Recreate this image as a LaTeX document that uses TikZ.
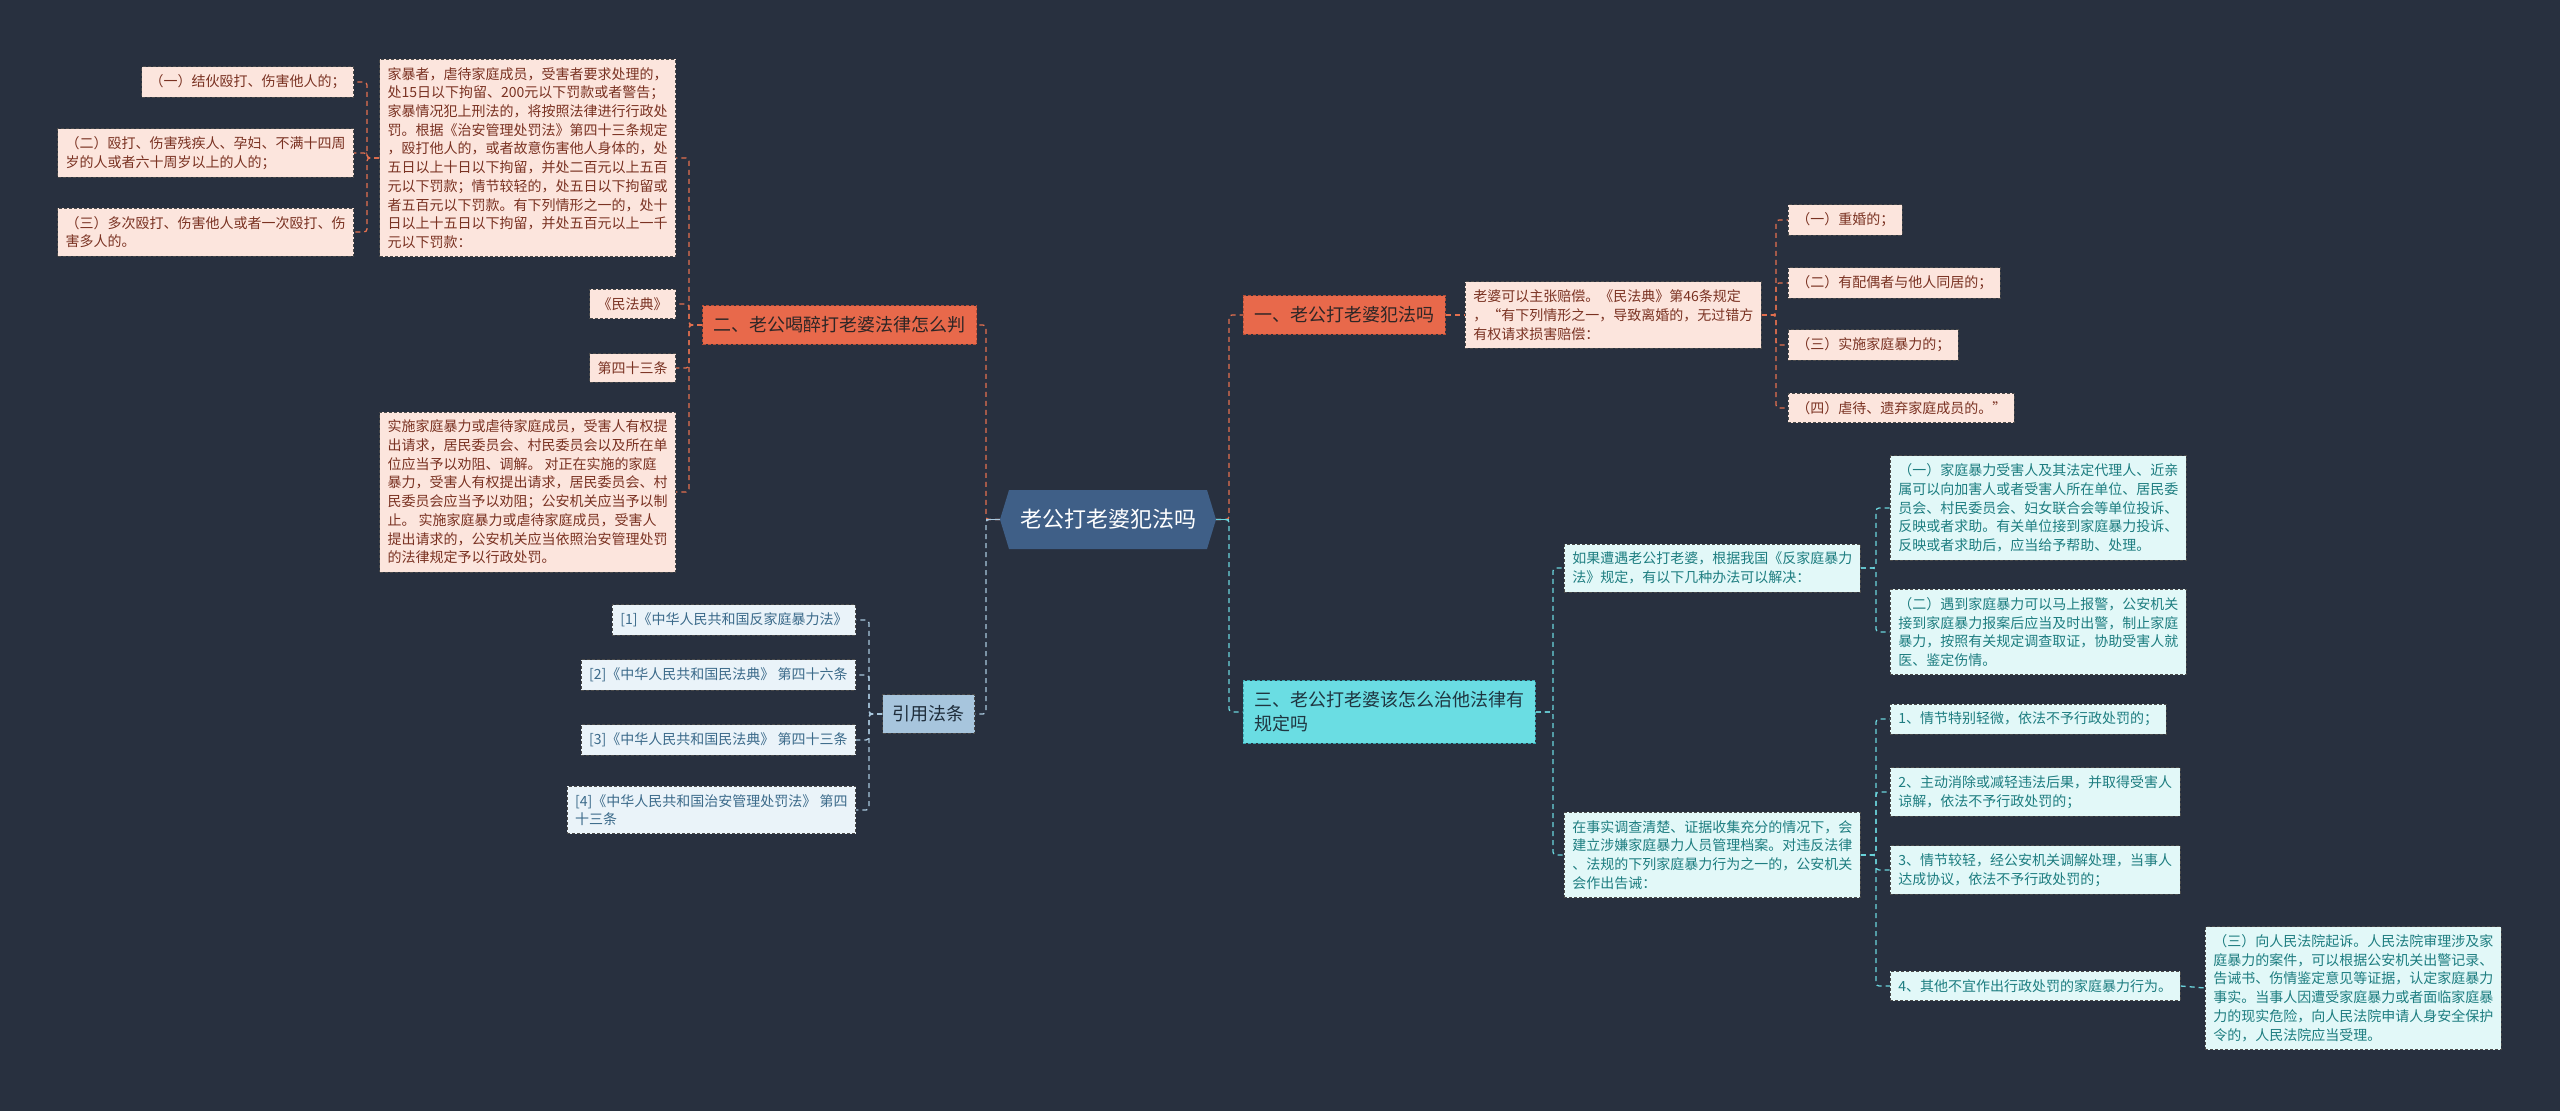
\documentclass[tikz,border=0pt]{standalone}
\usepackage{fontspec}
\setmainfont{Noto Sans CJK SC}
\usetikzlibrary{shapes.symbols}
\definecolor{bg}{HTML}{28303F}
\definecolor{orfill}{HTML}{E8694B}
\definecolor{orborder}{HTML}{B24F38}
\definecolor{ortext}{HTML}{2E2626}
\definecolor{pkfill}{HTML}{FCE5DD}
\definecolor{pktext}{HTML}{7A3222}
\definecolor{lbord}{HTML}{4A4A4A}
\definecolor{blfill}{HTML}{EAF3F9}
\definecolor{bltext}{HTML}{3B6A8A}
\definecolor{bltlfill}{HTML}{A7C5DD}
\definecolor{bltltext}{HTML}{1E2C3A}
\definecolor{cyfill}{HTML}{E2F8F8}
\definecolor{cytext}{HTML}{1D7D80}
\definecolor{cytlfill}{HTML}{6ADDE3}
\definecolor{cytltext}{HTML}{1F3540}
\definecolor{cytlborder}{HTML}{3AA9B2}
\definecolor{hubfill}{HTML}{3F5F87}
\definecolor{lnorc}{HTML}{E4704F}
\definecolor{lnblc}{HTML}{A9C7DD}
\definecolor{lncyc}{HTML}{6BD5DD}
\begin{document}
\begin{tikzpicture}[x=1pt,y=-1pt,
  base/.style={rectangle, inner xsep=8pt, inner ysep=8pt, align=left,
    font=\fontsize{14}{18.7}\selectfont, dashed, dash pattern=on 3pt off 2pt, line width=0.8pt},
  pk/.style={base, fill=pkfill, draw=lbord, text=pktext},
  bl/.style={base, fill=blfill, draw=lbord, text=bltext},
  cy/.style={base, fill=cyfill, draw=lbord, text=cytext},
  ttl/.style={rectangle, inner xsep=11pt, inner ysep=11pt, align=left,
    font=\fontsize{18}{24}\selectfont, dashed, dash pattern=on 3pt off 2pt, line width=0.8pt},
  orn/.style={ttl, fill=orfill, draw=orborder, text=ortext},
  bltl/.style={ttl, inner xsep=10pt, fill=bltlfill, draw=lbord, text=bltltext},
  cytl/.style={ttl, fill=cytlfill, draw=cytlborder, text=cytltext},
  hub/.style={shape=signal, signal to=west and east, signal pointer angle=146,
    fill=hubfill, draw=none, text=white, font=\fontsize{22}{26}\selectfont,
    minimum width=216pt, minimum height=59pt, inner sep=0pt},
  ln/.style={dashed, dash pattern=on 5pt off 4pt, line width=1.3pt, rounded corners=3pt},
  lnor/.style={ln, draw=lnorc},
  lnbl/.style={ln, draw=lnblc},
  lncy/.style={ln, draw=lncyc}
]
\useasboundingbox[fill=bg] (0,0) rectangle (2560,1111);

% hub
\node[hub] (hub) at (1108,519.5) {老公打老婆犯法吗};

% trunk coordinates
\coordinate (tL) at (986,0);
\coordinate (tR) at (1229,0);
\coordinate (t2) at (689,0);
\coordinate (tb1) at (367,0);
\coordinate (tyy) at (869,0);
\coordinate (tlp) at (1776,0);
\coordinate (tn3) at (1553,0);
\coordinate (trg) at (1876,0);
\coordinate (tzs) at (1876,0);

% left top branch
\node[orn, anchor=east] (n2) at (977,325) {二、老公喝醉打老婆法律怎么判};
\node[pk, anchor=east] (b1) at (676,158) {家暴者，虐待家庭成员，受害者要求处理的，\\处15日以下拘留、200元以下罚款或者警告；\\家暴情况犯上刑法的，将按照法律进行行政处\\罚。根据《治安管理处罚法》第四十三条规定\\，殴打他人的，或者故意伤害他人身体的，处\\五日以上十日以下拘留，并处二百元以上五百\\元以下罚款；情节较轻的，处五日以下拘留或\\者五百元以下罚款。有下列情形之一的，处十\\日以上十五日以下拘留，并处五百元以上一千\\元以下罚款：};
\node[pk, anchor=east] (mfd) at (676,304) {《民法典》};
\node[pk, anchor=east] (d43) at (676,368) {第四十三条};
\node[pk, anchor=east] (b2) at (676,492) {实施家庭暴力或虐待家庭成员，受害人有权提\\出请求，居民委员会、村民委员会以及所在单\\位应当予以劝阻、调解。 对正在实施的家庭\\暴力，受害人有权提出请求，居民委员会、村\\民委员会应当予以劝阻；公安机关应当予以制\\止。 实施家庭暴力或虐待家庭成员，受害人\\提出请求的，公安机关应当依照治安管理处罚\\的法律规定予以行政处罚。};
\node[pk, anchor=east] (l1) at (354,82) {（一）结伙殴打、伤害他人的；};
\node[pk, anchor=east] (l2) at (354,153) {（二）殴打、伤害残疾人、孕妇、不满十四周\\岁的人或者六十周岁以上的人的；};
\node[pk, anchor=east] (l3) at (354,232) {（三）多次殴打、伤害他人或者一次殴打、伤\\害多人的。};

% left bottom branch
\node[bltl, anchor=east] (yy) at (975,714) {引用法条};
\node[bl, anchor=east] (r1) at (856,620) {[1]《中华人民共和国反家庭暴力法》};
\node[bl, anchor=east] (r2) at (856,675) {[2]《中华人民共和国民法典》 第四十六条};
\node[bl, anchor=east] (r3) at (856,740) {[3]《中华人民共和国民法典》 第四十三条};
\node[bl, anchor=east] (r4) at (856,810) {[4]《中华人民共和国治安管理处罚法》 第四\\十三条};

% right top branch
\node[orn, anchor=west] (n1) at (1243,315) {一、老公打老婆犯法吗};
\node[pk, anchor=west] (lp) at (1465,315) {老婆可以主张赔偿。《民法典》第46条规定\\，“有下列情形之一，导致离婚的，无过错方\\有权请求损害赔偿：};
\node[pk, anchor=west] (p1) at (1788,220) {（一）重婚的；};
\node[pk, anchor=west] (p2) at (1788,283) {（二）有配偶者与他人同居的；};
\node[pk, anchor=west] (p3) at (1788,345) {（三）实施家庭暴力的；};
\node[pk, anchor=west] (p4) at (1788,408) {（四）虐待、遗弃家庭成员的。”};

% right bottom branch
\node[cytl, anchor=west] (n3) at (1243,712) {三、老公打老婆该怎么治他法律有\\规定吗};
\node[cy, anchor=west] (rg) at (1564,568) {如果遭遇老公打老婆，根据我国《反家庭暴力\\法》规定，有以下几种办法可以解决：};
\node[cy, anchor=west] (zs) at (1564,855) {在事实调查清楚、证据收集充分的情况下，会\\建立涉嫌家庭暴力人员管理档案。对违反法律\\、法规的下列家庭暴力行为之一的，公安机关\\会作出告诫：};
\node[cy, anchor=west] (f1) at (1890,508) {（一）家庭暴力受害人及其法定代理人、近亲\\属可以向加害人或者受害人所在单位、居民委\\员会、村民委员会、妇女联合会等单位投诉、\\反映或者求助。有关单位接到家庭暴力投诉、\\反映或者求助后，应当给予帮助、处理。};
\node[cy, anchor=west] (f2) at (1890,632) {（二）遇到家庭暴力可以马上报警，公安机关\\接到家庭暴力报案后应当及时出警，制止家庭\\暴力，按照有关规定调查取证，协助受害人就\\医、鉴定伤情。};
\node[cy, anchor=west] (q1) at (1890,719) {1、情节特别轻微，依法不予行政处罚的；};
\node[cy, anchor=west] (q2) at (1890,792) {2、主动消除或减轻违法后果，并取得受害人\\谅解，依法不予行政处罚的；};
\node[cy, anchor=west] (q3) at (1890,870) {3、情节较轻，经公安机关调解处理，当事人\\达成协议，依法不予行政处罚的；};
\node[cy, anchor=west] (q4) at (1890,986) {4、其他不宜作出行政处罚的家庭暴力行为。};
\node[cy, anchor=west] (s3) at (2205,988) {（三）向人民法院起诉。人民法院审理涉及家\\庭暴力的案件，可以根据公安机关出警记录、\\告诫书、伤情鉴定意见等证据，认定家庭暴力\\事实。当事人因遭受家庭暴力或者面临家庭暴\\力的现实危险，向人民法院申请人身安全保护\\令的，人民法院应当受理。};

% connectors
\draw[lnor] (hub.west) -- (hub.west -| tL) |- (n2.east);
\draw[lnbl] (hub.west) -- (hub.west -| tL) |- (yy.east);
\draw[lnor] (hub.east) -- (hub.east -| tR) |- (n1.west);
\draw[lncy] (hub.east) -- (hub.east -| tR) |- (n3.west);
\draw[lnblc, line width=1.6pt] (hub.west) -- (hub.west -| tL);
\draw[lncyc, line width=1.6pt] (hub.east) -- (hub.east -| tR);

\foreach \c in {b1,mfd,d43,b2} \draw[lnor] (n2.west) -- (n2.west -| t2) |- (\c.east);
\foreach \c in {l1,l2,l3} \draw[lnor] (b1.west) -- (b1.west -| tb1) |- (\c.east);
\foreach \c in {r1,r2,r3,r4} \draw[lnbl] (yy.west) -- (yy.west -| tyy) |- (\c.east);
\draw[lnor] (n1.east) -- (lp.west);
\foreach \c in {p1,p2,p3,p4} \draw[lnor] (lp.east) -- (lp.east -| tlp) |- (\c.west);
\foreach \c in {rg,zs} \draw[lncy] (n3.east) -- (n3.east -| tn3) |- (\c.west);
\foreach \c in {f1,f2} \draw[lncy] (rg.east) -- (rg.east -| trg) |- (\c.west);
\foreach \c in {q1,q2,q3,q4} \draw[lncy] (zs.east) -- (zs.east -| tzs) |- (\c.west);
\draw[lncy] (q4.east) -- (s3.west);
\end{tikzpicture}
\end{document}
